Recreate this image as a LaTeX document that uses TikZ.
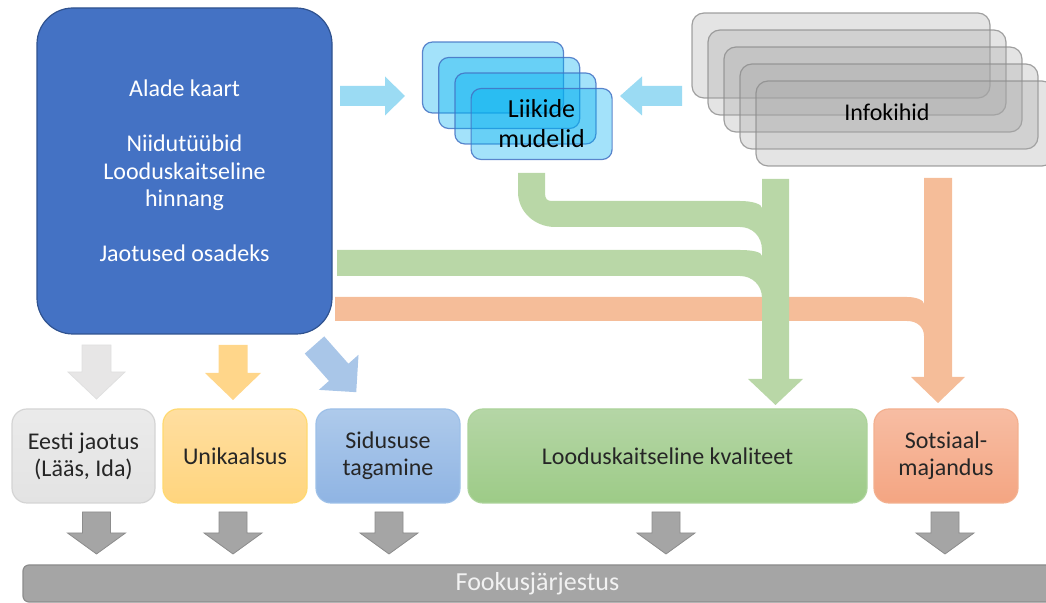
\documentclass[tikz,border=0pt]{standalone}
\usepackage{fontspec}
\setmainfont{Carlito}
\usepackage{tikz}

\definecolor{mainblue}{HTML}{4472C4}
\definecolor{mainline}{HTML}{2F528F}
\definecolor{arrowcyan}{HTML}{9BDBF3}
\definecolor{liikfill}{HTML}{00B0F0}
\definecolor{infofill}{HTML}{A6A6A6}
\definecolor{infoline}{HTML}{8C8C8C}
\definecolor{flowgreen}{HTML}{B9D7A7}
\definecolor{floworange}{HTML}{F5BD99}
\definecolor{arrowgray}{HTML}{E7E6E6}
\definecolor{arrowyellow}{HTML}{FFD68A}
\definecolor{arrowblue}{HTML}{A9C6E8}
\definecolor{bargray}{HTML}{A5A5A5}
\definecolor{barline}{HTML}{8C8C8C}

% block arrow: style, x, y, angle, length, shaft width, head width, head length
\newcommand{\blockarrow}[8]{%
  \begin{scope}[shift={(#2,#3)},rotate=#4]
    \path[#1] (0,{#6/2}) -- ({#5-#8},{#6/2}) -- ({#5-#8},{#7/2}) -- (#5,0)
      -- ({#5-#8},{-#7/2}) -- ({#5-#8},{-#6/2}) -- (0,{-#6/2}) -- cycle;
  \end{scope}}

\begin{document}
\begin{tikzpicture}[x=0.5pt, y=-0.5pt,
    box/.style={rounded corners=7.5pt, minimum width=72pt, minimum height=47pt,
      inner sep=0pt, align=center, text=black!85, line width=0.6pt,
      font=\fontsize{12}{13.5}\selectfont},
    liikbox/.style={rounded corners=5pt, minimum width=70.5pt, minimum height=35.5pt,
      fill=liikfill, fill opacity=0.36, draw=mainblue, draw opacity=0.85, line width=0.6pt},
    infobox/.style={rounded corners=6pt, minimum width=149pt, minimum height=42.5pt,
      fill=infofill, fill opacity=0.3, draw=infoline, draw opacity=0.8, line width=0.6pt},
    downgray/.style={fill=bargray, draw=barline, line width=0.4pt}]
  \useasboundingbox (0,0) rectangle (1046,603);

  % Source box
  \node[rounded corners=18pt, minimum width=147.5pt, minimum height=163pt,
    fill=mainblue, draw=mainline, line width=0.6pt, text=white, align=center,
    font=\fontsize{12}{13.75}\selectfont] (kaart) at (184.5,171)
    {Alade kaart\\[13.75pt]Niidutüübid\\Looduskaitseline\\hinnang\\[13.75pt]Jaotused osadeks};

  % Species models
  \foreach \i in {0,...,3}
    \node[liikbox] (liik\i) at ({493+16.2*\i},{77.5+15.5*\i}) {};
  \node[align=center, font=\fontsize{13}{15}\selectfont] (liiktext) at (liik3) {Liikide\\mudelid};

  % Info layers
  \foreach \i in {0,...,4}
    \node[infobox] (info\i) at ({841+16*\i},{55.5+17*\i}) {};
  \node[font=\fontsize{12}{13.5}\selectfont] (infotext) at (887,112) {Infokihid};

  % Arrows into the models
  \blockarrow{fill=arrowcyan}{340}{96}{0}{65}{20}{39}{20}
  \blockarrow{fill=arrowcyan}{682}{96}{180}{62}{20}{39}{22}

  % Orange flow
  \fill[floworange] (335,297) -- (907,297) .. controls (916,297) and (924,300) .. (924,304)
    -- (924,336) .. controls (924,327) and (917,321) .. (907,321) -- (335,321) -- cycle;
  \blockarrow{fill=floworange}{938}{178}{-90}{225}{28}{54}{26}

  % Green flows
  \fill[flowgreen] (518,173) -- (545,173) -- (545,193) .. controls (545,199) and (547,201) .. (552,201)
    -- (740,201) .. controls (752,201) and (762,204) .. (762,208)
    -- (762,250) .. controls (762,236) and (752,227) .. (740,227)
    -- (555,227) .. controls (535,227) and (518,212) .. (518,192) -- cycle;
  \fill[flowgreen] (337,250) -- (740,250) .. controls (752,250) and (762,252) .. (762,256)
    -- (762,298) .. controls (762,285) and (752,276) .. (740,276) -- (337,276) -- cycle;
  \blockarrow{fill=flowgreen}{775.5}{179}{-90}{226}{27}{55}{26}

  % Arrows out of the source box
  \blockarrow{fill=arrowgray, draw=black!12, line width=0.4pt}{96.5}{345}{-90}{54}{29}{57}{27}
  \blockarrow{fill=arrowyellow}{233}{345}{-90}{55}{29}{56}{27}
  \blockarrow{fill=arrowblue}{314.5}{345}{-48.5}{63}{26}{53}{26.5}

  % Criteria
  \node[box, minimum width=71.5pt, top color=black!8, bottom color=black!11, draw=black!17]
    (eesti) at (83.5,456) {Eesti jaotus\\(Lääs, Ida)};
  \node[box, top color={rgb,255:red,255;green,222;blue,160}, bottom color={rgb,255:red,255;green,213;blue,126},
    draw={rgb,255:red,255;green,217;blue,112}] (unikaal) at (235,456) {Unikaalsus};
  \node[box, top color={rgb,255:red,174;green,202;blue,235}, bottom color={rgb,255:red,143;green,180;blue,227},
    draw={rgb,255:red,157;green,192;blue,232}] (sidusus) at (388,456) {Sidususe\\tagamine};
  \node[box, minimum width=199.5pt, top color={rgb,255:red,181;green,214;blue,166}, bottom color={rgb,255:red,157;green,203;blue,135},
    draw={rgb,255:red,172;green,211;blue,154}] (kvaliteet) at (667.5,456) {Looduskaitseline kvaliteet};
  \node[box, top color={rgb,255:red,247;green,189;blue,163}, bottom color={rgb,255:red,244;green,165;blue,130},
    draw={rgb,255:red,243;green,176;blue,143}] (sotsiaal) at (946,456) {Sotsiaal-\\majandus};

  % Arrows down to the focus order
  \foreach \x in {96.5,233,389,666,945}
    {\blockarrow{downgray}{\x}{512}{-90}{42}{28}{58}{21}}

  % Focus order bar
  \node[rounded corners=3pt, minimum width=514.5pt, minimum height=18.5pt, inner sep=0pt,
    fill=bargray, draw=barline, line width=0.6pt, text=black!5,
    font=\fontsize{13}{15}\selectfont] (fookus) at (537.5,583.5) {Fookusjärjestus};
\end{tikzpicture}
\end{document}
